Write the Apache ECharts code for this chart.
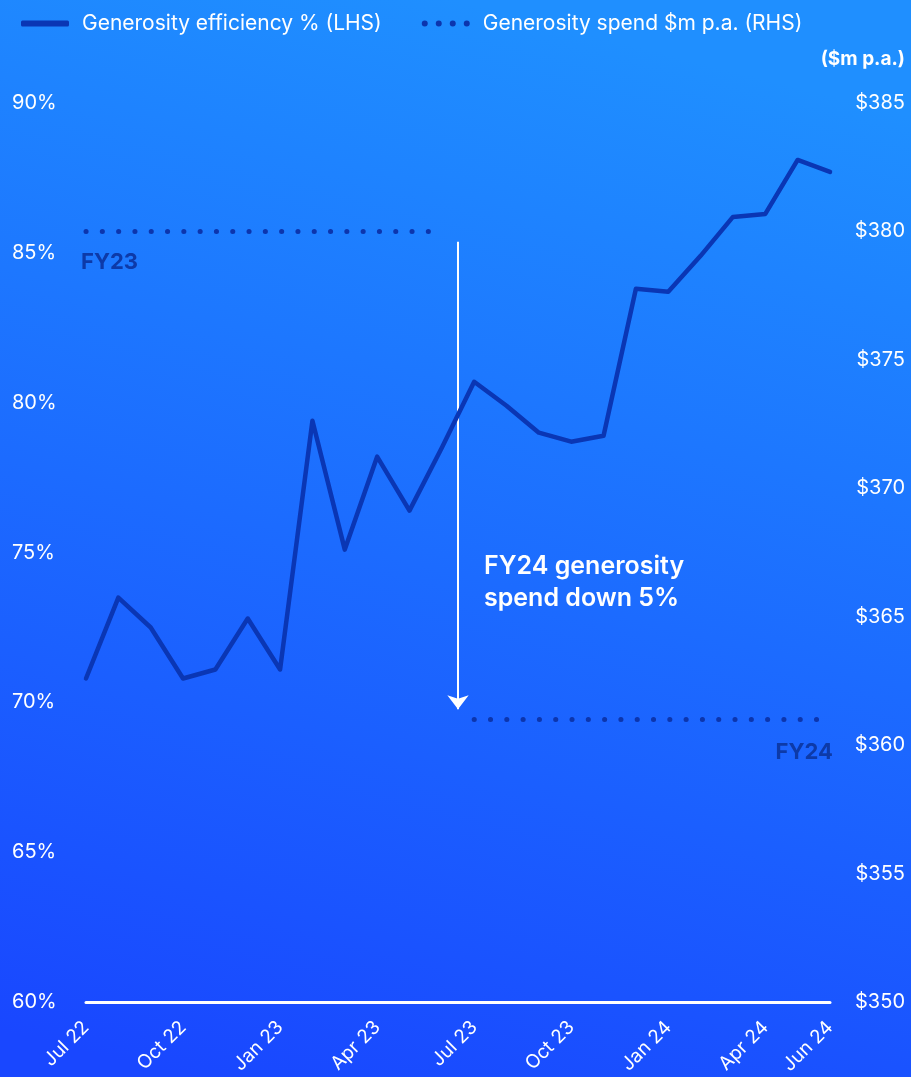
<!DOCTYPE html>
<html>
<head>
<meta charset="utf-8">
<script src="https://cdn.jsdelivr.net/npm/echarts@6/dist/echarts.min.js"></script>
<style>
  html, body { margin: 0; padding: 0; }
  #main { width: 911px; height: 1077px; }
</style>
</head>
<body>
<div id="main"></div>
<script>
// months Jul 22 .. Jun 24
var months = ['Jul 22', 'Aug 22', 'Sep 22', 'Oct 22', 'Nov 22', 'Dec 22',
    'Jan 23', 'Feb 23', 'Mar 23', 'Apr 23', 'May 23', 'Jun 23',
    'Jul 23', 'Aug 23', 'Sep 23', 'Oct 23', 'Nov 23', 'Dec 23',
    'Jan 24', 'Feb 24', 'Mar 24', 'Apr 24', 'May 24', 'Jun 24'];
// generosity efficiency % (LHS)
var efficiency = [70.8, 73.5, 72.5, 70.8, 71.1, 72.8, 71.1, 79.4, 75.1, 78.2, 76.4, 78.5,
    80.7, 79.9, 79.0, 78.7, 78.9, 83.8, 83.7, 84.9, 86.2, 86.3, 88.1, 87.7];
// generosity spend $m p.a. (RHS) - flat per financial year
var spendFY23 = 380;
var spendFY24 = 361;
var leftTicks = { min: 60, max: 90, step: 5 };
var rightTicks = { min: 350, max: 385, step: 5 };
// arrow from FY23 level down to FY24 level, between Jun 23 and Jul 23
var arrowX = 11.5;
var arrowFrom = 379.6;
var arrowTo = 361.4;

var fy23Data = months.map(function (m, i) { return i < 12 ? spendFY23 : '-'; });
var fy24Data = months.map(function (m, i) { return i >= 12 ? spendFY24 : '-'; });

var lineColor = '#0a36b4';
var dotColor = '#0c35ad';
var dotsIcon = 'path://M0,3a3,3 0 1,0 6,0a3,3 0 1,0 -6,0zM14,3a3,3 0 1,0 6,0a3,3 0 1,0 -6,0z' +
    'M28,3a3,3 0 1,0 6,0a3,3 0 1,0 -6,0zM42,3a3,3 0 1,0 6,0a3,3 0 1,0 -6,0z';

var chart = echarts.init(document.getElementById('main'));
var option = {
    backgroundColor: {
        type: 'linear', x: 0.2, y: 1, x2: 0.5, y2: 0,
        colorStops: [
            { offset: 0, color: '#1947ff' },
            { offset: 1, color: '#1f8fff' }
        ]
    },
    textStyle: { fontFamily: 'Inter' },
    legend: {
        left: 16,
        top: 8,
        itemWidth: 48,
        itemHeight: 6,
        itemGap: 40,
        textStyle: { color: '#fff', fontSize: 21, fontFamily: 'Inter', padding: [0, 0, 0, 8] },
        data: [
            { name: 'Generosity efficiency % (LHS)', icon: 'roundRect' },
            { name: 'Generosity spend $m p.a. (RHS)', icon: dotsIcon }
        ]
    },
    grid: { left: 86, right: 81, top: 103, bottom: 73 },
    xAxis: [{
        type: 'category',
        data: months,
        boundaryGap: false,
        axisLine: { lineStyle: { color: '#fff', width: 3 } },
        axisTick: { show: false },
        axisLabel: {
            color: '#fff',
            fontSize: 19,
            rotate: 45,
            margin: 22,
            interval: function (idx) { return idx % 3 === 0 || idx === months.length - 1; }
        }
    }, {
        type: 'value',
        show: false,
        min: 0,
        max: months.length - 1
    }],
    yAxis: [{
        type: 'value',
        min: leftTicks.min, max: leftTicks.max, interval: leftTicks.step,
        splitLine: { show: false },
        axisLine: { show: false },
        axisTick: { show: false },
        axisLabel: { color: '#fff', fontSize: 20, align: 'left', margin: 74, formatter: '{value}%' }
    }, {
        type: 'value',
        position: 'right',
        min: rightTicks.min, max: rightTicks.max, interval: rightTicks.step,
        splitLine: { show: false },
        axisLine: { show: false },
        axisTick: { show: false },
        axisLabel: { color: '#fff', fontSize: 20, align: 'right', margin: 75, formatter: '${value}' }
    }],
    graphic: [{
        type: 'text',
        right: 6,
        top: 50,
        style: { text: '($m p.a.)', fill: '#fff', font: 'bold 19px Inter' }
    }, {
        type: 'text',
        left: 484,
        top: 550,
        style: {
            text: 'FY24 generosity\nspend down 5%',
            fill: '#fff',
            font: '600 25px Inter',
            lineHeight: 32
        }
    }],
    series: [{
        name: 'Generosity efficiency % (LHS)',
        type: 'line',
        data: efficiency,
        symbol: 'none',
        lineStyle: { color: lineColor, width: 4.5, join: 'round', cap: 'round' },
        itemStyle: { color: lineColor },
        z: 5
    }, {
        name: 'Generosity spend $m p.a. (RHS)',
        type: 'line',
        yAxisIndex: 1,
        data: fy23Data,
        symbol: 'none',
        lineStyle: { color: dotColor, width: 5, type: [0.1, 16.2], cap: 'round' },
        itemStyle: { color: dotColor },
        markPoint: {
            symbol: 'circle',
            symbolSize: 1,
            itemStyle: { color: 'rgba(0,0,0,0)' },
            label: {
                show: true, position: 'bottom', align: 'left', offset: [-5, 14],
                color: '#0d3aa8', fontSize: 22, fontWeight: 'bold', formatter: 'FY23'
            },
            data: [{ coord: [0, spendFY23] }]
        }
    }, {
        name: 'Generosity spend $m p.a. (RHS)',
        type: 'line',
        yAxisIndex: 1,
        data: fy24Data,
        symbol: 'none',
        lineStyle: { color: dotColor, width: 5, type: [0.1, 16.2], cap: 'round' },
        itemStyle: { color: dotColor },
        markPoint: {
            symbol: 'circle',
            symbolSize: 1,
            itemStyle: { color: 'rgba(0,0,0,0)' },
            label: {
                show: true, position: 'bottom', align: 'right', offset: [3, 16],
                color: '#0d3aa8', fontSize: 22, fontWeight: 'bold', formatter: 'FY24'
            },
            data: [{ coord: [months.length - 1, spendFY24] }]
        }
    }, {
        // arrow
        type: 'line',
        xAxisIndex: 1,
        yAxisIndex: 1,
        data: [],
        silent: true,
        markLine: {
            silent: true,
            symbol: ['none', 'arrow'],
            symbolSize: [16, 14],
            label: { show: false },
            lineStyle: { color: '#fff', width: 2, type: 'solid' },
            data: [[{ coord: [arrowX, arrowFrom] }, { coord: [arrowX, arrowTo] }]]
        }
    }]
};
chart.setOption(option);
</script>
</body>
</html>
